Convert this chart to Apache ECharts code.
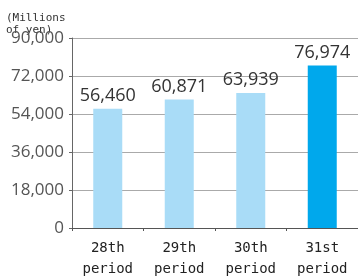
<!DOCTYPE html>
<html>
<head>
<meta charset="utf-8">
<script src="https://cdn.jsdelivr.net/npm/echarts@6/dist/echarts.min.js"></script>
<style>
  html, body { margin: 0; padding: 0; background: #fff; }
  #chart { width: 358px; height: 280px; }
</style>
</head>
<body>
<div id="chart"></div>
<script>
const categories = ['28th\nperiod', '29th\nperiod', '30th\nperiod', '31st\nperiod']
const values = [56460, 60871, 63939, 76974]
const barColors = ['#a9dcf7', '#a9dcf7', '#a9dcf7', '#00a8ec']

const chart = echarts.init(document.getElementById('chart'))

chart.setOption({
  animation: false,
  grid: { left: 72, right: 0, top: 38, bottom: 46 },
  graphic: [
    {
      type: 'text',
      left: 6,
      top: 12,
      style: {
        text: '(Millions\nof yen)',
        font: '11px "DejaVu Sans Mono"',
        fill: '#333',
        lineHeight: 12
      }
    }
  ],
  xAxis: {
    type: 'category',
    data: categories,
    axisLine: { lineStyle: { color: '#555', width: 1 } },
    axisTick: { show: true, length: 3, lineStyle: { color: '#555' } },
    axisLabel: {
      color: '#222',
      fontFamily: 'DejaVu Sans Mono',
      fontSize: 14,
      lineHeight: 21,
      margin: 10
    }
  },
  yAxis: {
    type: 'value',
    min: 0,
    max: 90000,
    interval: 18000,
    axisLine: { show: true, lineStyle: { color: '#666' } },
    axisTick: { show: true, length: 3, lineStyle: { color: '#666' } },
    splitLine: { lineStyle: { color: '#aaa' } },
    axisLabel: {
      color: '#555',
      fontFamily: 'Open Sans',
      fontSize: 17,
      margin: 8,
      formatter: v => v.toLocaleString('en-US')
    }
  },
  series: [
    {
      type: 'bar',
      data: values.map((v, i) => ({ value: v, itemStyle: { color: barColors[i] } })),
      barWidth: 29,
      label: {
        show: true,
        position: 'top',
        distance: 4,
        color: '#333',
        fontFamily: 'Open Sans',
        fontSize: 18,
        formatter: p => p.value.toLocaleString('en-US')
      }
    }
  ]
})
</script>
</body>
</html>
